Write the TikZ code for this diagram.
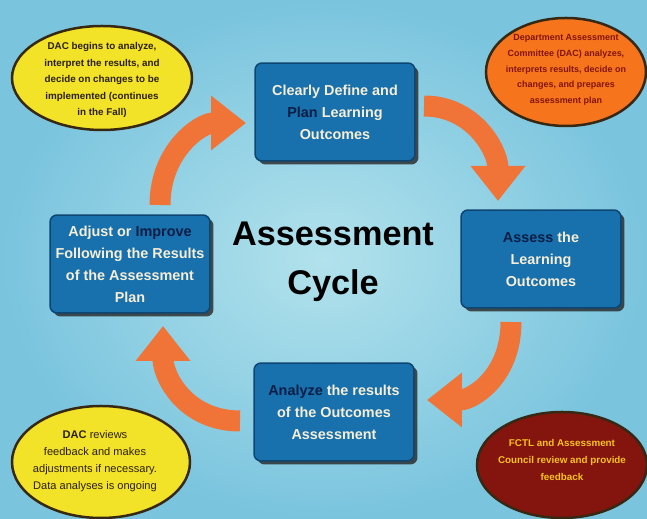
\documentclass[tikz,border=0pt]{standalone}
\usepackage{fontspec}
\setmainfont{Liberation Sans}
\usetikzlibrary{arrows.meta,shadows}
\definecolor{skyback}{RGB}{122,196,222}
\definecolor{skylight}{RGB}{178,226,236}
\definecolor{boxblue}{RGB}{24,112,172}
\definecolor{boxedge}{RGB}{14,70,115}
\definecolor{boxtext}{RGB}{246,238,214}
\definecolor{navyword}{RGB}{12,30,70}
\definecolor{arroworange}{RGB}{240,116,56}
\definecolor{noteyellow}{RGB}{242,226,40}
\definecolor{noteorange}{RGB}{246,116,28}
\definecolor{notered}{RGB}{132,20,14}
\definecolor{noteedge}{RGB}{55,40,20}
\def\boxfont{\fontsize{8.2}{12.5}\selectfont\bfseries}
\def\notefont{\fontsize{5.6}{9.4}\selectfont\bfseries}
\def\dark#1{\textcolor{navyword}{#1}}

\begin{document}
\begin{tikzpicture}[x=0.02cm,y=-0.02cm,
		stepbox/.style={rectangle, rounded corners=4pt, fill=boxblue, draw=boxedge, line width=0.3mm,
			text=boxtext, align=center, inner sep=2pt, minimum width=3.2cm, minimum height=1.96cm,
			font=\boxfont, drop shadow={shadow xshift=0.7mm, shadow yshift=-0.7mm, fill=black!85, opacity=0.8}},
		cyclearrow/.style={line width=4.2mm, color=arroworange, -{Triangle[width=10.5mm,length=7mm]}},
		bubble/.style={line width=0.5mm, draw=noteedge},
		notetext/.style={align=center, font=\notefont}]
			%%%%% START %%%%%
			
			\useasboundingbox (0, 0) rectangle (647, 519);
			\shade[inner color=skylight, outer color=skyback] (0, 0) rectangle (647, 519);
			
			% the four notes
			\fill[bubble, fill=noteyellow] (102, 78) ellipse [x radius=90, y radius=52];
			\node[notetext, text=noteedge!80!black] (note tl) at (102, 80)
				{DAC begins to analyze,\\ interpret the results, and\\ decide on changes to be\\ implemented (continues\\ in the Fall)};
			
			\fill[bubble, fill=noteorange] (566, 72) ellipse [x radius=80, y radius=54];
			\node[notetext, text=notered, font=\fontsize{5.1}{9}\selectfont\bfseries] (note tr) at (566, 70)
				{Department Assessment\\ Committee (DAC) analyzes,\\ interprets results, decide on\\ changes, and prepares\\ assessment plan};
			
			\fill[bubble, fill=noteyellow] (101, 462) ellipse [x radius=89, y radius=56];
			\node[notetext, text=noteedge!80!black, font=\fontsize{6.3}{9.6}\selectfont] (note bl) at (95, 461)
				{\textbf{DAC} reviews\\ feedback and makes\\ adjustments if necessary.\\ Data analyses is ongoing};
			
			\fill[bubble, fill=notered] (562, 465) ellipse [x radius=85, y radius=53];
			\node[notetext, text=noteyellow!70!orange] (note br) at (562, 460)
				{FCTL and Assessment\\ Council review and provide\\ feedback};
			
			% the cycle
			\node[stepbox] (define) at (335, 112) {Clearly Define and\\ \dark{Plan} Learning\\ Outcomes};
			\node[stepbox] (assess) at (541, 259) {\dark{Assess} the\\ Learning\\ Outcomes};
			\node[stepbox] (analyze) at (334, 412) {\dark{Analyze} the results\\ of the Outcomes\\ Assessment};
			\node[stepbox] (adjust) at (130, 264) {Adjust or \dark{Improve}\\ Following the Results\\ of the Assessment\\ Plan};
			
			\node[align=center, font=\fontsize{19.5}{28}\selectfont\bfseries] (title) at (333, 262) {Assessment\\ Cycle};
			
			% arrows between the steps
			\coordinate (tl tail) at (160, 205);
			\coordinate (tl tip) at (246, 123);
			\coordinate (tr tail) at (424, 106);
			\coordinate (tr tip) at (498, 201);
			\coordinate (br tail) at (511, 322);
			\coordinate (br tip) at (427, 400);
			\coordinate (bl tail) at (240, 421);
			\coordinate (bl tip) at (163, 326);
			
			\draw[cyclearrow] (tl tail) .. controls +(0, -55) and +(-45, 0) .. (tl tip);
			\draw[cyclearrow] (tr tail) .. controls +(50, 0) and +(0, -50) .. (tr tip);
			\draw[cyclearrow] (br tail) .. controls +(0, 55) and +(45, 0) .. (br tip);
			\draw[cyclearrow] (bl tail) .. controls +(-55, 0) and +(0, 50) .. (bl tip);
			
			%%%%% END %%%%%
\end{tikzpicture}
\end{document}
